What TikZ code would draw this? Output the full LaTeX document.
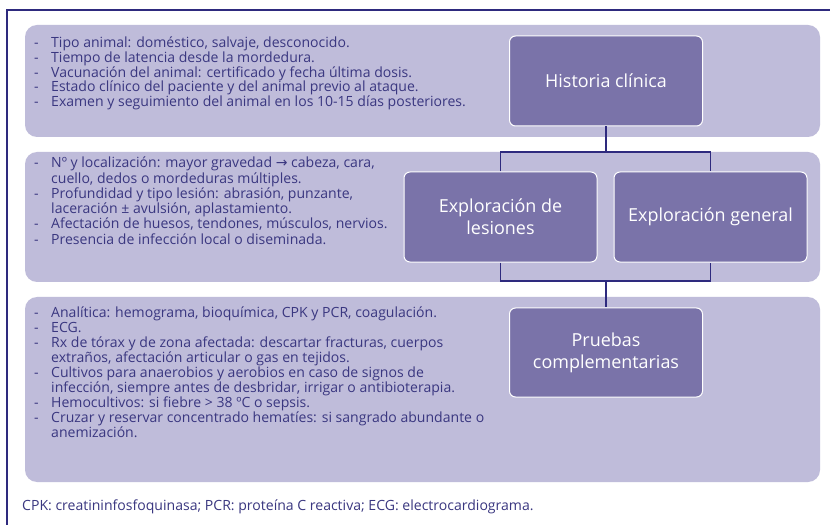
\documentclass[tikz,border=0pt]{standalone}
\usepackage{fontspec}
\setmainfont{Open Sans}
\newfontfamily\symfont{DejaVu Sans}
\definecolor{panelc}{HTML}{BFBCDA}
\definecolor{boxc}{HTML}{7A73A9}
\definecolor{navy}{HTML}{2E2A7E}
\definecolor{txtc}{HTML}{3A3780}
\newcommand{\dd}{\makebox[17bp][l]{-}}
\newcommand{\ii}{\hspace*{17bp}}
\tikzset{
  panel/.style={fill=panelc, rounded corners=12bp},
  flowbox/.style={draw=white, line width=1bp, fill=boxc, rounded corners=6bp, text=white,
    minimum width=193bp, minimum height=90bp, align=center, inner sep=2bp,
    font=\fontsize{18}{22}\selectfont},
  conn/.style={draw=navy, line width=1.6bp},
  listtext/.style={anchor=north west, inner sep=0pt, align=left, text=txtc,
    font=\fontsize{14.1}{15}\selectfont},
}
\begin{document}
\begin{tikzpicture}[x=1bp,y=-1bp]
\useasboundingbox (0,0) rectangle (830,525);
\fill[white] (0,0) rectangle (830,525);
\draw[navy, line width=2bp] (7,525) -- (7,10) -- (831,10);

\fill[panel] (25,25) rectangle (820,137);
\fill[panel] (25,152) rectangle (820,282);
\fill[panel] (25,297) rectangle (820,482);

\node[flowbox] (hc) at (606,81) {Historia clínica};
\node[flowbox] (el) at (500.5,217) {Exploración de\\lesiones};
\node[flowbox] (eg) at (710.5,217) {Exploración general};
\node[flowbox, minimum height=89bp] (pc) at (606,352.5) {Pruebas\\complementarias};

\coordinate (j1) at (606,152);
\coordinate (j2) at (606,281);
\draw[conn] (hc.south) -- (j1);
\draw[conn] (el.north) |- (j1) -| (eg.north);
\draw[conn] (el.south) |- (j2) -| (eg.south);
\draw[conn] (j2) -- (pc.north);

\node[listtext, font=\fontsize{14.1}{14.7}\selectfont] (t1) at (34,37) {%
\dd Tipo animal: doméstico, salvaje, desconocido.\\
\dd Tiempo de latencia desde la mordedura.\\
\dd Vacunación del animal: certificado y fecha última dosis.\\
\dd Estado clínico del paciente y del animal previo al ataque.\\
\dd Examen y seguimiento del animal en los 10-15 días posteriores.};

\node[listtext, font=\fontsize{14.1}{15.3}\selectfont] (t2) at (34,157) {%
\dd Nº y localización: mayor gravedad {\symfont →} cabeza, cara,\\
\ii cuello, dedos o mordeduras múltiples.\\
\dd Profundidad y tipo lesión: abrasión, punzante,\\
\ii laceración ± avulsión, aplastamiento.\\
\dd Afectación de huesos, tendones, músculos, nervios.\\
\dd Presencia de infección local o diseminada.};

\node[listtext] (t3) at (34,306.5) {%
\dd Analítica: hemograma, bioquímica, CPK y PCR, coagulación.\\
\dd ECG.\\
\dd Rx de tórax y de zona afectada: descartar fracturas, cuerpos\\
\ii extraños, afectación articular o gas en tejidos.\\
\dd Cultivos para anaerobios y aerobios en caso de signos de\\
\ii infección, siempre antes de desbridar, irrigar o antibioterapia.\\
\dd Hemocultivos: si fiebre > 38 ºC o sepsis.\\
\dd Cruzar y reservar concentrado hematíes: si sangrado abundante o\\
\ii anemización.};

\node[listtext] (foot) at (22,500) {CPK: creatininfosfoquinasa; PCR: proteína C reactiva; ECG: electrocardiograma.};
\end{tikzpicture}
\end{document}
